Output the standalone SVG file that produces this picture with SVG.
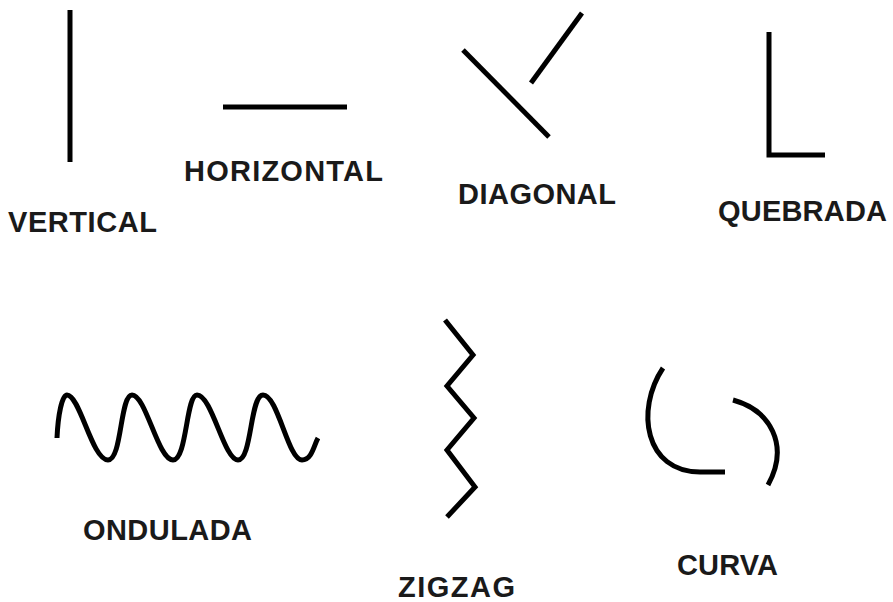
<svg xmlns="http://www.w3.org/2000/svg" width="893" height="602" viewBox="0 0 893 602">
<style>
.ln{fill:none;stroke:#000;stroke-width:5;stroke-linecap:butt;stroke-linejoin:miter}
.lb{font-family:"Liberation Sans",Arial,sans-serif;font-weight:bold;font-size:29px;fill:#1a1a1a}
</style>
<rect width="893" height="602" fill="#fff"/>
<g id="vertical">
<line class="ln" x1="70" y1="10" x2="70" y2="162"/>
<text class="lb" x="8" y="232" textLength="149" lengthAdjust="spacing">VERTICAL</text>
</g>
<g id="horizontal">
<line class="ln" x1="223" y1="107" x2="347" y2="107"/>
<text class="lb" x="184" y="181" textLength="199" lengthAdjust="spacing">HORIZONTAL</text>
</g>
<g id="diagonal">
<line class="ln" x1="463" y1="50" x2="549" y2="137"/>
<line class="ln" x1="531" y1="83" x2="582" y2="13"/>
<text class="lb" x="458" y="204" textLength="158" lengthAdjust="spacing">DIAGONAL</text>
</g>
<g id="quebrada">
<polyline class="ln" points="769,32 769,155 825,155"/>
<text class="lb" x="718" y="221" textLength="169" lengthAdjust="spacing">QUEBRADA</text>
</g>
<g id="ondulada">
<path class="ln" d="M57,438 C58,415 62,395 67,395 C80,395 92,460 108,460 C122,460 120,395 132,395 C146,395 158,460 173,460 C187,460 186,395 197,395 C212,395 224,460 238,460 C252,460 250,395 263,395 C278,395 288,460 302,460 C312,460 314,445 318,438"/>
<text class="lb" x="83" y="540" textLength="169" lengthAdjust="spacing">ONDULADA</text>
</g>
<g id="zigzag">
<polyline class="ln" points="445,320 473,355 447,386 474,418 447,450 475,487 447,517"/>
<text class="lb" x="398" y="597" textLength="117" lengthAdjust="spacing">ZIGZAG</text>
</g>
<g id="curva">
<path class="ln" d="M663,368 C635,410 645,472 700,472 L725,472"/>
<path class="ln" d="M733,400 C770,410 790,445 768,485"/>
<text class="lb" x="677" y="575" textLength="101" lengthAdjust="spacing">CURVA</text>
</g>
</svg>
